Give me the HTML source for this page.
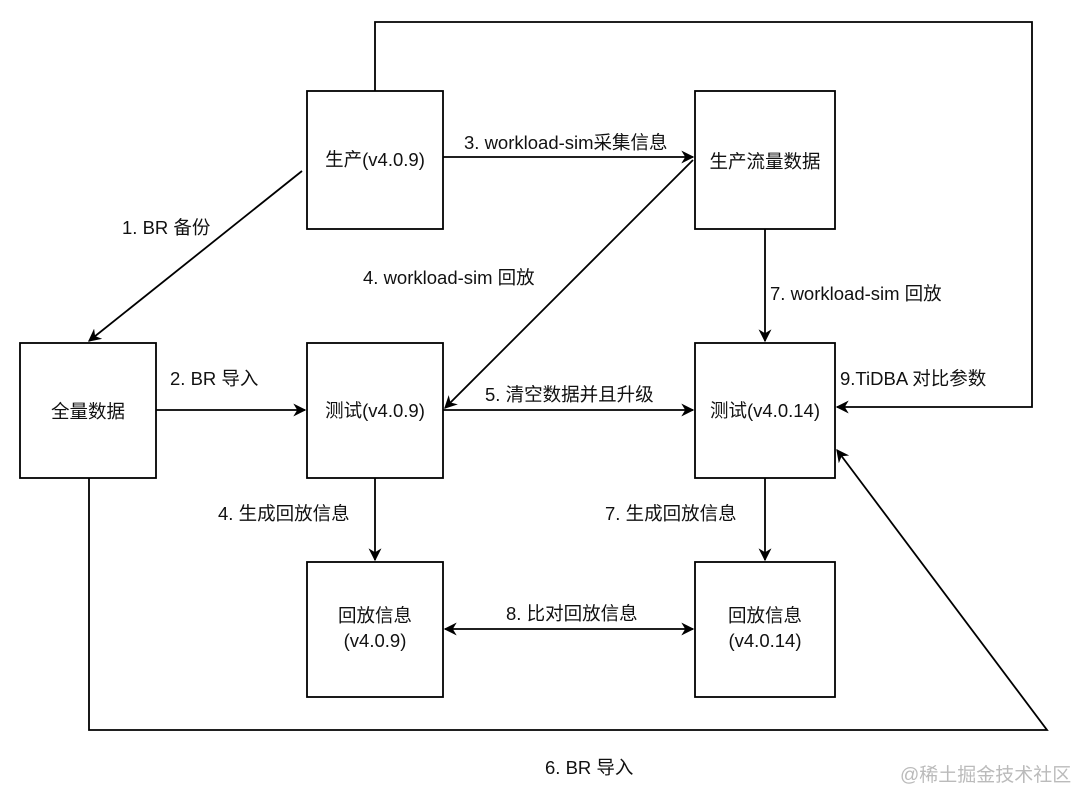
<!DOCTYPE html>
<html><head><meta charset="utf-8"><style>
body{margin:0;background:#fff;}
svg{display:block;}
text{font-family:"Liberation Sans","Noto Sans CJK SC",sans-serif;font-size:18.5px;fill:#111;}
.c{text-anchor:middle;}
</style></head><body>
<svg width="1080" height="790" viewBox="0 0 1080 790" xmlns="http://www.w3.org/2000/svg">
<defs>
<marker id="a" viewBox="0 0 10 10" refX="9" refY="5" markerWidth="13" markerHeight="13" markerUnits="userSpaceOnUse" orient="auto-start-reverse">
<path d="M0,0 L10,5 L0,10 L3,5 z" fill="#000"/></marker>
</defs>
<g fill="none" stroke="#000" stroke-width="1.8">
<rect x="307" y="91" width="136" height="138"/>
<rect x="695" y="91" width="140" height="138"/>
<rect x="20" y="343" width="136" height="135"/>
<rect x="307" y="343" width="136" height="135"/>
<rect x="695" y="343" width="140" height="135"/>
<rect x="307" y="562" width="136" height="135"/>
<rect x="695" y="562" width="140" height="135"/>
<path d="M375,91 V22 H1032 V407 H837" marker-end="url(#a)"/>
<path d="M443,157 H693" marker-end="url(#a)"/>
<path d="M302,171 L89,341" marker-end="url(#a)"/>
<path d="M693,160 L445,408" marker-end="url(#a)"/>
<path d="M765,229 L765,341" marker-end="url(#a)"/>
<path d="M156,410 H305" marker-end="url(#a)"/>
<path d="M443,410 H693" marker-end="url(#a)"/>
<path d="M375,478 V560" marker-end="url(#a)"/>
<path d="M765,478 V560" marker-end="url(#a)"/>
<path d="M445,629 H693" marker-start="url(#a)" marker-end="url(#a)"/>
<path d="M89,478 V730 H1047 L837,450" marker-end="url(#a)"/>
</g>
<text class="c" x="375" y="166">生产(v4.0.9)</text>
<text class="c" x="765" y="168">生产流量数据</text>
<text class="c" x="88" y="418">全量数据</text>
<text class="c" x="375" y="417">测试(v4.0.9)</text>
<text class="c" x="765" y="417">测试(v4.0.14)</text>
<text class="c" x="375" y="622">回放信息</text>
<text class="c" x="375" y="647">(v4.0.9)</text>
<text class="c" x="765" y="622">回放信息</text>
<text class="c" x="765" y="647">(v4.0.14)</text>
<text x="464" y="149">3. workload-sim采集信息</text>
<text x="122" y="234">1. BR 备份</text>
<text x="363" y="284">4. workload-sim 回放</text>
<text x="770" y="300">7. workload-sim 回放</text>
<text x="170" y="385">2. BR 导入</text>
<text x="485" y="401">5. 清空数据并且升级</text>
<text x="840" y="385">9.TiDBA 对比参数</text>
<text x="218" y="520">4. 生成回放信息</text>
<text x="605" y="520">7. 生成回放信息</text>
<text x="506" y="620">8. 比对回放信息</text>
<text x="545" y="774">6. BR 导入</text>
<text x="900" y="781" style="fill:#bbb;font-size:19px">@稀土掘金技术社区</text>
</svg>
</body></html>
